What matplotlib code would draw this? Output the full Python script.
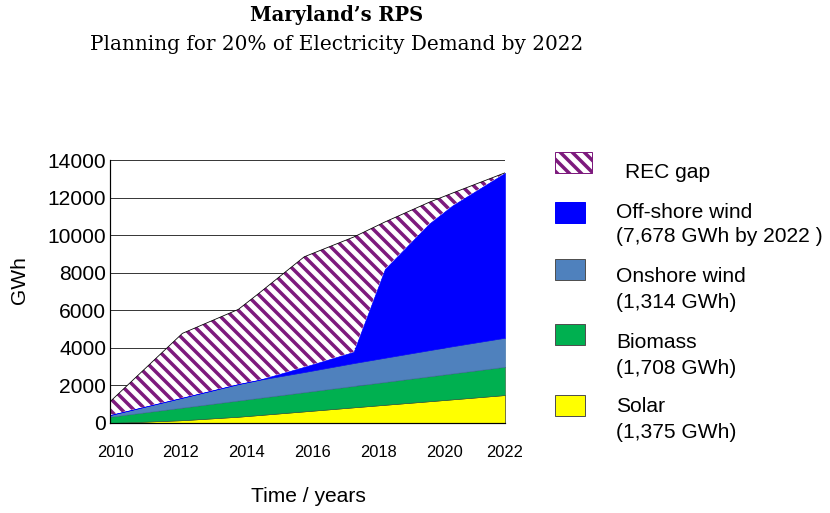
import numpy as np
import matplotlib.pyplot as plt
from matplotlib.patches import Rectangle
from matplotlib.transforms import ScaledTranslation

# values (GWh, stacked from the bottom)
years = [2010, 2012.2, 2013.9, 2014.5, 2015.9, 2017.4, 2018.35, 2019.7, 2020.4, 2022]
solar = [0, 150, 335, 420, 620, 835, 970, 1160, 1260, 1490]
biomass = [335, 673, 865, 913, 1023, 1141, 1216, 1326, 1381, 1505]
onshore = [90, 527, 875, 957, 1070, 1214, 1289, 1392, 1445, 1545]
offshore = [0, 0, 0, 0, 282, 600, 4725, 6742, 7494, 8777]
rec_gap = [708, 3422, 3974, 4581, 5852, 6107, 2500, 1133, 656, 0]

year_ticks = [2010, 2012, 2014, 2016, 2018, 2020, 2022]
gwh_ticks = [0, 2000, 4000, 6000, 8000, 10000, 12000, 14000]

legend_names = ["REC gap", "Off-shore wind", "Onshore wind", "Biomass", "Solar"]
legend_notes = ["", "(7,678 GWh by 2022 )", "(1,314 GWh)", "(1,708 GWh)", "(1,375 GWh)"]

PURPLE = "#7d1a7d"
HATCH = "\\\\"
colors = ["white", "#0000ff", "#4f81bd", "#00b050", "#ffff00"]
edges = [PURPLE, "#0000ff", "#3a6ea5", "#2f5f3a", "#202020"]

plt.rcParams["font.family"] = ["Liberation Sans", "DejaVu Sans"]
plt.rcParams["hatch.linewidth"] = 3.5
plt.rcParams["hatch.color"] = PURPLE

DPI = 72
fig = plt.figure(figsize=(830 / DPI, 513 / DPI), dpi=DPI)
ax = fig.add_axes([110 / 830, 1 - 423 / 513, 395 / 830, 263 / 513])

# stack bottom -> top
layers = [solar, biomass, onshore, offshore, rec_gap]
tops = np.cumsum(np.array(layers, dtype=float), axis=0)
bottoms = np.vstack([np.zeros(len(years)), tops[:-1]])

fill_colors = colors[::-1]
fill_edges = edges[::-1]
for i in range(len(layers)):
    if i == len(layers) - 1:
        ax.fill_between(years, bottoms[i], tops[i], facecolor="white",
                        edgecolor=PURPLE, hatch=HATCH, linewidth=0, zorder=2)
        ax.plot(years, tops[i], color="black", lw=0.8, zorder=3)
    else:
        ax.fill_between(years, bottoms[i], tops[i], facecolor=fill_colors[i],
                        edgecolor=fill_edges[i], linewidth=0.6, zorder=2)

ax.set_xlim(2010, 2022)
ax.set_ylim(0, 14000)
ax.set_yticks(gwh_ticks)
ax.set_yticklabels([str(v) for v in gwh_ticks], fontsize=21)
ax.set_xticks(year_ticks)
ax.set_xticklabels([str(v) for v in year_ticks], fontsize=16.5)
ax.tick_params(axis="y", length=0, pad=4)
ax.tick_params(axis="x", length=0, pad=22)
shift = ScaledTranslation(5 / DPI, 0, fig.dpi_scale_trans)
for lab in ax.get_xticklabels()[:-1]:
    lab.set_transform(lab.get_transform() + shift)

ax.grid(axis="y", color="#3a3a3a", lw=1)
ax.set_axisbelow(True)
for side in ["top", "right"]:
    ax.spines[side].set_visible(False)
for side in ["left", "bottom"]:
    ax.spines[side].set_color("black")
    ax.spines[side].set_linewidth(1.2)
    ax.spines[side].set_zorder(4)

fig.text(20 / 830, 1 - 280 / 513, "GWh", rotation=90, ha="center", va="center", fontsize=21)
fig.text(308 / 830, 1 - 497 / 513, "Time / years", ha="center", va="center", fontsize=21)

fig.text(337 / 830, 1 - 15 / 513, "Maryland\u2019s RPS", ha="center", va="center",
         fontsize=19.5, fontweight="bold", family="DejaVu Serif")
fig.text(337 / 830, 1 - 45 / 513, "Planning for 20% of Electricity Demand by 2022",
         ha="center", va="center", fontsize=20, family="DejaVu Serif")

# hand-placed legend
patch_y = [152, 202, 259, 324, 395]
patch_w = [37, 30, 30, 30, 30]
line1_y = [172, 212, 277, 342, 407]
line2_y = [None, 237, 303, 368, 432]
text_x = [625, 616, 616, 616, 616]
for i, name in enumerate(legend_names):
    hatch = HATCH if i == 0 else None
    rect = Rectangle((555 / 830, 1 - (patch_y[i] + 21) / 513), patch_w[i] / 830, 21 / 513,
                     transform=fig.transFigure, facecolor=colors[i],
                     edgecolor="#505050" if i != 1 else colors[i], linewidth=1,
                     hatch=hatch)
    if i == 0:
        rect.set_edgecolor(PURPLE)
    fig.add_artist(rect)
    fig.text(text_x[i] / 830, 1 - line1_y[i] / 513, name, ha="left", va="center", fontsize=21)
    if legend_notes[i]:
        fig.text(text_x[i] / 830, 1 - line2_y[i] / 513, legend_notes[i], ha="left",
                 va="center", fontsize=21)

fig.savefig("out.png", dpi=DPI)
